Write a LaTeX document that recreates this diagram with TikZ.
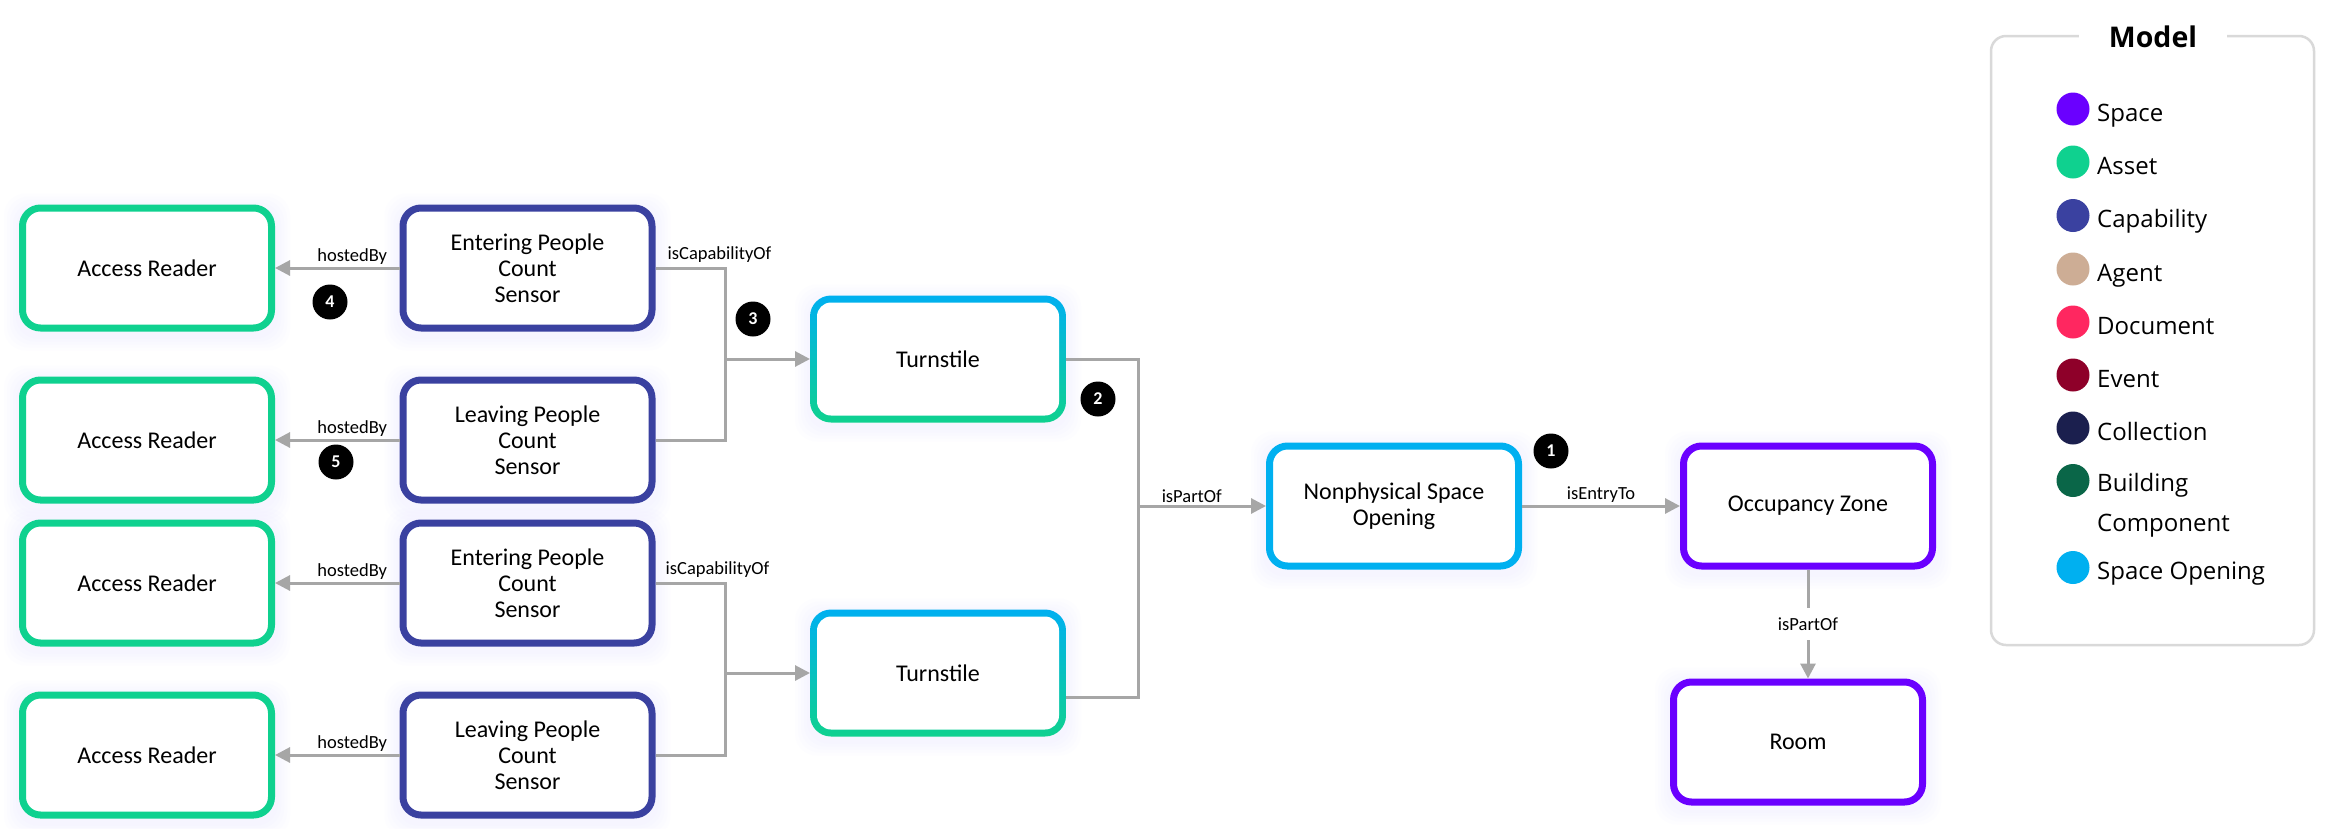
\documentclass[tikz,border=0pt]{standalone}
\usepackage{fontspec}
\setmainfont{Carlito}
\newfontfamily\legendfont{Open Sans}
\usetikzlibrary{arrows.meta,calc,backgrounds}
\definecolor{cSpace}{HTML}{6A00FF}
\definecolor{cAsset}{HTML}{0FD18F}
\definecolor{cCap}{HTML}{3A41A0}
\definecolor{cAgent}{HTML}{CDAD95}
\definecolor{cDoc}{HTML}{FF2760}
\definecolor{cEvent}{HTML}{8E0029}
\definecolor{cColl}{HTML}{1B1F4E}
\definecolor{cBldg}{HTML}{0A6648}
\definecolor{cOpen}{HTML}{00B0F0}
\definecolor{cLine}{HTML}{A6A6A6}
\definecolor{cGlow}{HTML}{E6E0FF}
\definecolor{cFrame}{HTML}{D9D9D9}
\begin{document}
\begin{tikzpicture}[x=1pt,y=-1pt,
  box/.style={draw, line width=7pt, fill=white, rounded corners=18pt,
    minimum width=249pt, minimum height=120pt, align=center,
    font=\fontsize{24}{26}\selectfont, inner sep=0pt},
  assetbox/.style={box, draw=cAsset},
  capbox/.style={box, draw=cCap},
  spacebox/.style={box, draw=cSpace},
  openbox/.style={box, draw=cOpen},
  gradbox/.style={box, draw=none, minimum width=242pt, minimum height=113pt,
    rounded corners=14pt, outer sep=7pt},
  conn/.style={draw=cLine, line width=3pt},
  arr/.style={conn, -{Triangle[length=15pt,width=15pt]}},
  lbl/.style={font=\fontsize{18.5}{20}\selectfont, inner sep=2pt, text=black},
  badge/.style={circle, fill=black, minimum size=35pt, inner sep=0pt,
    text=white, font=\fontsize{18}{18}\selectfont\bfseries},
  dot/.style={circle, minimum size=33pt, inner sep=0pt},
  legtext/.style={font=\legendfont\fontsize{24}{40}\selectfont, inner sep=0pt,
    anchor=base west, align=left}
]
\useasboundingbox (0,0) rectangle (2330,828);

% nodes
\node[assetbox] (r1) at (147,268) {Access Reader};
\node[assetbox] (r2) at (147,440) {Access Reader};
\node[assetbox] (r3) at (147,583) {Access Reader};
\node[assetbox] (r4) at (147,755) {Access Reader};
\node[capbox] (e1) at (527.5,268) {Entering People\\Count\\Sensor};
\node[capbox] (l1) at (527.5,440) {Leaving People\\Count\\Sensor};
\node[capbox] (e2) at (527.5,583) {Entering People\\Count\\Sensor};
\node[capbox] (l2) at (527.5,755) {Leaving People\\Count\\Sensor};
\node[gradbox] (t1) at (938,359) {Turnstile};
\node[gradbox] (t2) at (938,673) {Turnstile};
\node[openbox] (np) at (1394,506) {Nonphysical Space\\Opening};
\node[spacebox] (occ) at (1808,506) {Occupancy Zone};
\node[spacebox] (room) at (1798,742) {Room};

% glow and gradient borders
\begin{pgfonlayer}{background}
  \fill[white] (0,0) rectangle (2330,828);
  \foreach \n in {r1,r2,r3,r4,e1,l1,e2,l2,t1,t2,np,occ,room}{
    \foreach \s in {3,6,9,12,15}{
      \fill[cGlow, opacity=0.06, rounded corners=22pt]
        ($(\n.north west)+(-\s*1pt,\s*1pt-4pt)$) rectangle
        ($(\n.south east)+(\s*1pt,-\s*1pt-4pt)$);
    }
  }
  \foreach \n in {t1,t2}{
    \shade[top color=cOpen, bottom color=cAsset, rounded corners=21pt]
      (\n.north west) rectangle (\n.south east);
  }
\end{pgfonlayer}

% junction coordinates
\coordinate (ja) at (725,0);
\coordinate (jb) at (1138,0);
\coordinate (t2e) at ($(t2.east)+(0,-24pt)$);

% hostedBy
\draw[arr] (e1.west) -- (r1.east) node[lbl, pos=0.38, above] {hostedBy};
\draw[arr] (l1.west) -- (r2.east) node[lbl, pos=0.38, above] {hostedBy};
\draw[arr] (e2.west) -- (r3.east) node[lbl, pos=0.38, above] {hostedBy};
\draw[arr] (l2.west) -- (r4.east) node[lbl, pos=0.38, above] {hostedBy};

% isCapabilityOf
\draw[conn] (e1.east) -- (e1.east -| ja) -- (l1.east -| ja) -- (l1.east);
\draw[arr] (ja |- t1.west) -- (t1.west);
\node[lbl, anchor=south west] (c1) at ($(e1.east)+(10pt,3pt)$) {isCapabilityOf};
\draw[conn] (e2.east) -- (e2.east -| ja) -- (l2.east -| ja) -- (l2.east);
\draw[arr] (ja |- t2.west) -- (t2.west);
\node[lbl, anchor=south west] (c2) at ($(e2.east)+(8pt,3pt)$) {isCapabilityOf};

% isPartOf (turnstiles)
\draw[conn] (t1.east) -- (t1.east -| jb) -- (jb |- t2e) -- (t2e);
\draw[arr] (jb |- np.west) -- (np.west) node[lbl, pos=0.42, above] {isPartOf};

% isEntryTo
\draw[arr] (np.east) -- (occ.west) node[lbl, midway, above] {isEntryTo};

% isPartOf (zone -> room)
\draw[arr] (occ.south) -- (occ.south |- room.north)
  node[lbl, midway, fill=white, inner ysep=10pt] {isPartOf};

% badges
\node[badge] (b1) at (1551,451) {1};
\node[badge] (b2) at (1098,399) {2};
\node[badge] (b3) at (753,319) {3};
\node[badge] (b4) at (330,302) {4};
\node[badge] (b5) at (336,462) {5};

% legend
\draw[cFrame, line width=2.5pt, rounded corners=15pt] (1991,36) rectangle (2314,645);
\node[fill=white, inner xsep=30pt, inner ysep=2pt,
  font=\legendfont\bfseries\fontsize{28.5}{30}\selectfont] (title) at (2153,37) {Model};
\node[dot, fill=cSpace] (d1) at (2073,109) {};
\node[dot, fill=cAsset] (d2) at (2073,162) {};
\node[dot, fill=cCap]   (d3) at (2073,215.5) {};
\node[dot, fill=cAgent] (d4) at (2073,269) {};
\node[dot, fill=cDoc]   (d5) at (2073,322) {};
\node[dot, fill=cEvent] (d6) at (2073,375) {};
\node[dot, fill=cColl]  (d7) at (2073,428) {};
\node[dot, fill=cBldg]  (d8) at (2073,480.5) {};
\node[dot, fill=cOpen]  (d9) at (2073,567.5) {};
\node[legtext] (x1) at (2097,121) {Space};
\node[legtext] (x2) at (2097,174) {Asset};
\node[legtext] (x3) at (2097,227.5) {Capability};
\node[legtext] (x4) at (2097,281) {Agent};
\node[legtext] (x5) at (2097,334) {Document};
\node[legtext] (x6) at (2097,387) {Event};
\node[legtext] (x7) at (2097,440) {Collection};
\node[legtext] (x8) at (2097,531) {Building\\Component};
\node[legtext] (x9) at (2097,579) {Space Opening};
\end{tikzpicture}
\end{document}
